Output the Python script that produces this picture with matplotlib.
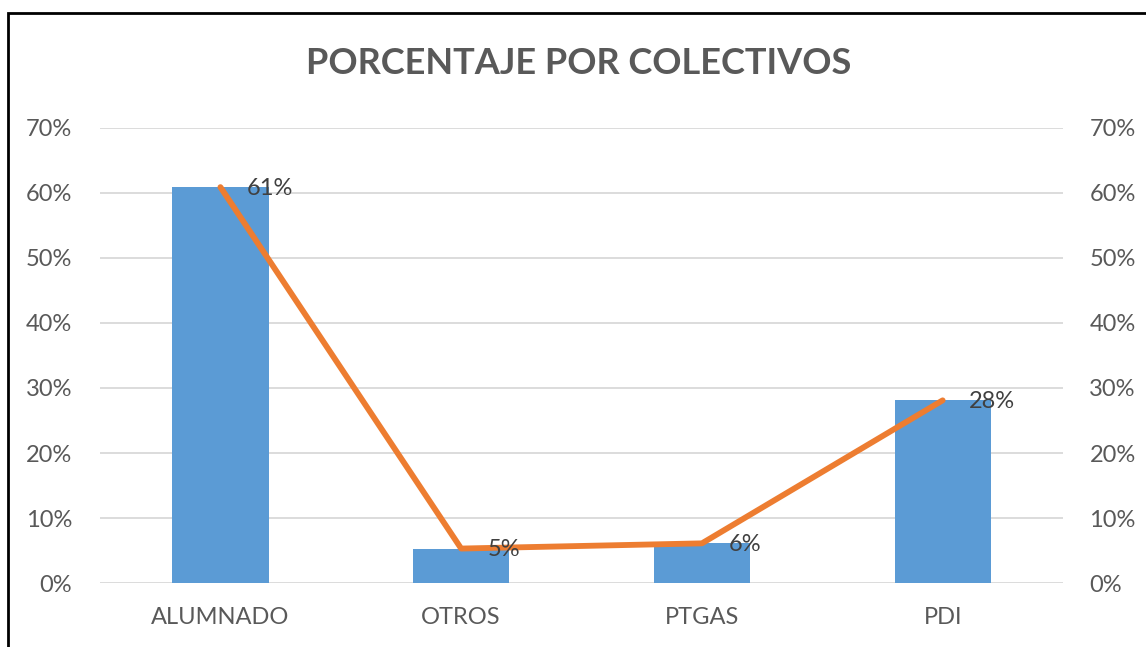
import matplotlib.pyplot as plt
from matplotlib.patches import Rectangle
from matplotlib.ticker import FuncFormatter

plt.rcParams['font.family'] = ['Lato', 'DejaVu Sans']

# data
categories = ["ALUMNADO", "OTROS", "PTGAS", "PDI"]
values = [0.609, 0.053, 0.061, 0.281]
labels = ["61%", "5%", "6%", "28%"]

bar_color = "#5B9BD5"
line_color = "#ED7D31"
text_gray = "#595959"

fig = plt.figure(figsize=(11.46, 6.47), dpi=100)
ax = fig.add_axes([0.0873, 0.0989, 0.9276 - 0.0873, 0.8022 - 0.0989])

x = list(range(len(categories)))
ax.bar(x, values, width=0.4, color=bar_color, zorder=2)
ax.plot(x, values, color=line_color, linewidth=4.2, solid_capstyle='round', zorder=3)

for xi, v, lab in zip(x, values, labels):
    ax.annotate(lab, (xi, v), xytext=(19, -1), textcoords='offset points',
                ha='left', va='center', fontsize=17, color="#404040", zorder=4)

ax.set_xlim(-0.5, len(categories) - 0.5)
ax.set_ylim(0, 0.7)
ax.set_yticks([i / 10 for i in range(8)])
pct = FuncFormatter(lambda v, _: f"{round(v * 100)}%")
ax.yaxis.set_major_formatter(pct)
ax.set_xticks(x)
ax.set_xticklabels(categories)
ax.grid(axis='y', color="#D9D9D9", linewidth=1.3, zorder=0)
ax.set_axisbelow(True)
for s in ax.spines.values():
    s.set_visible(False)
ax.tick_params(axis='both', length=0, labelsize=17, labelcolor=text_gray)
ax.tick_params(axis='y', pad=20)
ax.tick_params(axis='x', pad=17)

ax2 = ax.twinx()
ax2.set_ylim(0, 0.7)
ax2.set_yticks([i / 10 for i in range(8)])
ax2.yaxis.set_major_formatter(pct)
for s in ax2.spines.values():
    s.set_visible(False)
ax2.tick_params(axis='y', length=0, labelsize=17, labelcolor=text_gray, pad=19)

fig.text(0.505, 0.902, "PORCENTAJE POR COLECTIVOS", ha='center', va='center',
         fontsize=26, fontweight='bold', color=text_gray)

fig.patches.append(Rectangle((8 / 1146, -0.1), 1.2, 1 - 13 / 647 + 0.1,
                             transform=fig.transFigure, fill=False,
                             edgecolor='black', linewidth=2))

fig.savefig("out.png", dpi=100)
